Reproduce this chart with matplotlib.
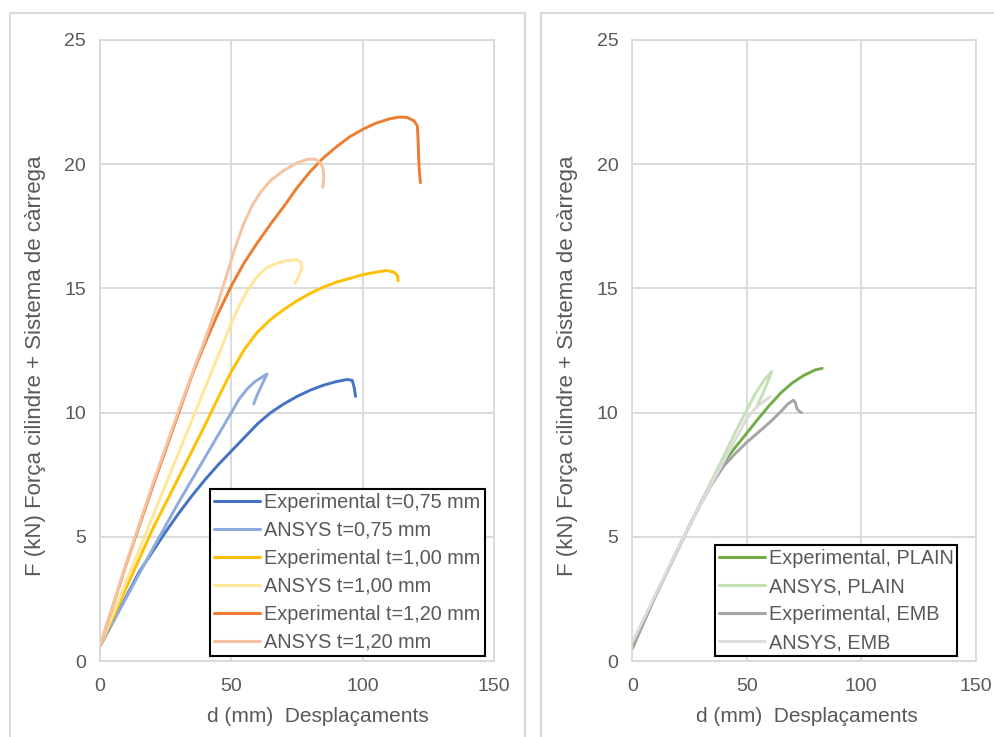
import matplotlib
matplotlib.use("Agg")
import matplotlib.pyplot as plt
from matplotlib.patches import Rectangle

plt.rcParams['font.family'] = ['Liberation Sans', 'DejaVu Sans']

# ---- data: displacement d (mm) and force F (kN) ----
# Left chart: thickness comparison
exp075_d = [0, 5, 10, 15, 20, 25, 30, 35, 40, 45, 50, 55, 60, 65, 70, 75, 80, 85, 90, 94, 96, 96.8, 97.3]
exp075_f = [0.6, 1.6, 2.6, 3.6, 4.4, 5.2, 5.95, 6.65, 7.3, 7.9, 8.45, 9.0, 9.55, 10.0, 10.35, 10.65,
            10.9, 11.1, 11.25, 11.33, 11.3, 11.0, 10.65]

ans075_d = [0, 10, 20, 30, 40, 45, 50, 53, 56, 59, 62, 63.6, 62, 60, 58.5]
ans075_f = [0.6, 2.55, 4.5, 6.4, 8.2, 9.1, 10.0, 10.55, 10.95, 11.25, 11.45, 11.55, 11.2, 10.75, 10.35]

exp100_d = [0, 10, 20, 30, 40, 45, 50, 55, 60, 65, 70, 75, 80, 85, 90, 95, 100, 105, 109, 112, 113.3, 113.5]
exp100_f = [0.6, 2.95, 5.3, 7.4, 9.5, 10.6, 11.65, 12.55, 13.25, 13.75, 14.15, 14.5, 14.8, 15.05,
            15.25, 15.4, 15.55, 15.65, 15.72, 15.65, 15.5, 15.3]

ans100_d = [0, 10, 20, 30, 40, 45, 50, 53, 56, 59.6, 63, 67, 71, 74.9, 76.5, 76.8, 75.5, 74.2]
ans100_f = [0.6, 3.2, 5.8, 8.4, 11.0, 12.3, 13.6, 14.3, 14.9, 15.45, 15.8, 16.0, 16.12, 16.15, 16.05,
            15.8, 15.45, 15.2]

exp120_d = [0, 10, 20, 30, 35, 40, 45, 50, 55, 60, 65, 70, 75, 80, 85, 90, 95, 100, 105, 110, 114,
            117, 119.5, 120.8, 121.1, 121.3, 121.6, 122]
exp120_f = [0.6, 3.9, 7.0, 10.0, 11.5, 12.8, 14.0, 15.1, 16.05, 16.85, 17.6, 18.3, 19.05, 19.7, 20.25,
            20.7, 21.1, 21.4, 21.65, 21.82, 21.9, 21.88, 21.75, 21.55, 21.0, 20.3, 19.7, 19.25]

ans120_d = [0, 10, 20, 30, 35, 40, 45, 48, 51, 54.5, 58, 61, 65, 70, 75, 79, 82, 84, 85, 85.2, 84.8]
ans120_f = [0.6, 3.95, 7.1, 10.1, 11.55, 12.95, 14.45, 15.45, 16.5, 17.55, 18.35, 18.85, 19.35, 19.75,
            20.05, 20.2, 20.2, 20.05, 19.8, 19.4, 19.07]

# Right chart: PLAIN vs EMB
exp_plain_d = [0, 5, 10, 15, 20, 25, 30, 35, 40, 45, 50, 55, 60, 65, 70, 75, 80, 83]
exp_plain_f = [0.5, 1.55, 2.6, 3.55, 4.5, 5.45, 6.35, 7.25, 8.0, 8.6, 9.17, 9.75, 10.3, 10.8, 11.2,
               11.5, 11.72, 11.78]

ans_plain_d = [0, 10, 20, 30, 40, 45, 50, 54, 58, 60.9, 59.5, 57, 54.4]
ans_plain_f = [0.7, 2.6, 4.5, 6.4, 8.25, 9.2, 10.1, 10.8, 11.35, 11.65, 11.3, 10.75, 10.24]

exp_emb_d = [0, 10, 20, 30, 35, 40, 45, 50, 55, 60, 65, 68, 70.4, 71.3, 72, 73, 74]
exp_emb_f = [0.55, 2.6, 4.55, 6.35, 7.15, 7.85, 8.35, 8.8, 9.2, 9.6, 10.05, 10.35, 10.5, 10.4, 10.15,
             10.05, 10.0]

ans_emb_d = [0, 10, 20, 30, 40, 45, 50, 53, 56, 60.2]
ans_emb_f = [0.75, 2.65, 4.55, 6.35, 8.05, 8.9, 9.75, 10.1, 10.35, 10.64]

left_labels = ["Experimental t=0,75 mm", "ANSYS t=0,75 mm",
               "Experimental t=1,00 mm", "ANSYS t=1,00 mm",
               "Experimental t=1,20 mm", "ANSYS t=1,20 mm"]
left_colors = ["#4472C4", "#8FAADC", "#FFC000", "#FFE699", "#ED7D31", "#F6C3A2"]

right_labels = ["Experimental, PLAIN", "ANSYS, PLAIN", "Experimental, EMB", "ANSYS, EMB"]
right_colors = ["#70AD47", "#C5E0B4", "#A5A5A5", "#DCDCDC"]

x_ticks = [0, 50, 100, 150]
y_ticks = [0, 5, 10, 15, 20, 25]

xlabel = "d (mm)  Desplaçaments"
ylabel = "F (kN) Força cilindre + Sistema de càrrega"

# ---- figure ----
W, H = 994, 737
fig = plt.figure(figsize=(W / 100, H / 100), dpi=100)


def frac(x0, y0, x1, y1):
    return [x0 / W, 1 - y1 / H, (x1 - x0) / W, (y1 - y0) / H]


# chart-area borders
for (x0, y0, x1, y1) in [(10, 13, 525, 760), (541, 13, 1010, 760)]:
    fig.patches.append(Rectangle((x0 / W, 1 - y1 / H), (x1 - x0) / W, (y1 - y0) / H,
                                 transform=fig.transFigure, fill=False,
                                 edgecolor="#D9D9D9", linewidth=1.5, clip_on=False))

axL = fig.add_axes(frac(100, 40, 494, 661))
axR = fig.add_axes(frac(632.3, 40, 975.5, 661))

TXT = "#595959"
FS = 14
LEG_FS = 14.3

left_series = [(exp075_d, exp075_f), (ans075_d, ans075_f), (exp100_d, exp100_f),
               (ans100_d, ans100_f), (exp120_d, exp120_f), (ans120_d, ans120_f)]
right_series = [(exp_plain_d, exp_plain_f), (ans_plain_d, ans_plain_f),
                (exp_emb_d, exp_emb_f), (ans_emb_d, ans_emb_f)]

for (d, f), lab, col in zip(left_series, left_labels, left_colors):
    axL.plot(d, f, color=col, lw=2.1, label=lab, solid_capstyle="round", solid_joinstyle="round")
for (d, f), lab, col in zip(right_series, right_labels, right_colors):
    axR.plot(d, f, color=col, lw=2.1, label=lab, solid_capstyle="round", solid_joinstyle="round")

for ax in (axL, axR):
    ax.set_xlim(0, 150)
    ax.set_ylim(0, 25)
    ax.set_xticks(x_ticks)
    ax.set_yticks(y_ticks)
    ax.grid(True, color="#D9D9D9", linewidth=1.3)
    ax.set_axisbelow(True)
    for s in ax.spines.values():
        s.set_color("#D9D9D9")
        s.set_linewidth(1.3)
    ax.tick_params(length=0, labelsize=FS, labelcolor=TXT)
    ax.tick_params(axis="y", pad=10)
    ax.tick_params(axis="x", pad=12)
    ax.set_xlabel(xlabel, fontsize=15, color=TXT, va="center")
    ax.set_ylabel(ylabel, fontsize=16, color=TXT, va="center")

axL.xaxis.set_label_coords(0.553, -0.0886)
axL.yaxis.set_label_coords(-0.163, 0.476)
axR.xaxis.set_label_coords(0.51, -0.0886)
axR.yaxis.set_label_coords(-0.19, 0.476)

legL = axL.legend(loc="lower left", bbox_to_anchor=((210 - 100) / 394, (661 - 656) / 621),
                  borderaxespad=0, fontsize=LEG_FS, frameon=True, fancybox=False,
                  handlelength=2.3, handletextpad=0.2, labelspacing=0.45, borderpad=0.22)
legR = axR.legend(loc="lower left", bbox_to_anchor=((715 - 632.3) / 343.2, (661 - 656) / 621),
                  borderaxespad=0, fontsize=LEG_FS, frameon=True, fancybox=False,
                  handlelength=2.3, handletextpad=0.2, labelspacing=0.45, borderpad=0.2)
for leg in (legL, legR):
    fr = leg.get_frame()
    fr.set_edgecolor("black")
    fr.set_linewidth(1.5)
    fr.set_alpha(1)
    for t in leg.get_texts():
        t.set_color(TXT)
    for h in leg.get_lines():
        h.set_linewidth(2.2)

fig.savefig("out.png", dpi=100, facecolor="white")
